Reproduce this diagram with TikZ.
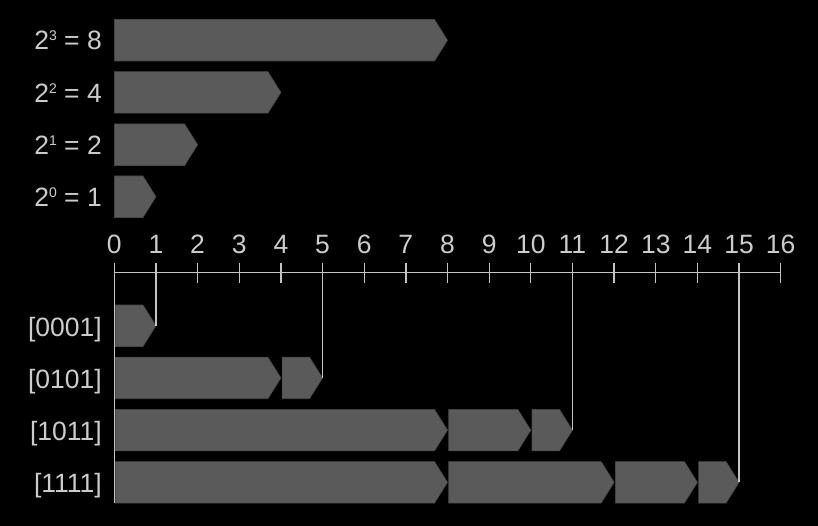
\documentclass[tikz,border=0pt]{standalone}
\usepackage{fontspec}
\setmainfont{Liberation Sans}
\definecolor{barfill}{HTML}{5A5A5A}
\definecolor{baredge}{HTML}{484848}
\definecolor{ink}{HTML}{CCCCCC}
\definecolor{rule}{HTML}{C4C4C4}
\newcommand\xv[1]{{114.3+41.65*(#1)}}
\newcommand\supnum[1]{\raisebox{9pt}{\fontsize{14}{14}\selectfont #1}}
% name, from, to, ytop, left offset
\newcommand\mybar[5]{%
  \path[barshape] ({114.3+41.65*(#2)+#5},#4) -- ({114.3+41.65*(#3)-13},#4)
    -- ({114.3+41.65*(#3)},{#4+20.75}) -- ({114.3+41.65*(#3)-13},{#4+41.5})
    -- ({114.3+41.65*(#2)+#5},{#4+41.5}) -- cycle;
  \coordinate (#1) at ({114.3+41.65*(#3)},{#4+20.75});%
}
\begin{document}
\begin{tikzpicture}[x=1pt,y=-1pt,
  barshape/.style={fill=barfill,draw=baredge,line width=0.6pt},
  lbl/.style={text=ink,font=\fontsize{26.5}{30}\selectfont,inner sep=0pt},
  side/.style={lbl,anchor=base east},
  axisline/.style={draw=rule,line width=1.3pt},
  conn/.style={draw=rule,line width=1.3pt}]
\fill[black] (0,0) rectangle (818,526);
\useasboundingbox (0,0) rectangle (818,526);

% top bars
\mybar{p3}{0}{8}{19.5}{0}
\mybar{p2}{0}{4}{71.7}{0}
\mybar{p1}{0}{2}{124}{0}
\mybar{p0}{0}{1}{176}{0}
\node[side] (l3) at (102,50) {2\supnum{3} = 8};
\node[side] (l2) at (102,102.2) {2\supnum{2} = 4};
\node[side] (l1) at (102,154.4) {2\supnum{1} = 2};
\node[side] (l0) at (102,206.6) {2\supnum{0} = 1};

% axis
\coordinate (a0) at (\xv{0},272.7);
\coordinate (a16) at (\xv{16},272.7);
\draw[axisline] (a0) -- (a16);
\foreach \i in {0,...,16}{
  \coordinate (t\i) at (\xv{\i},263);
  \coordinate (b\i) at (\xv{\i},283);
  \draw[axisline] (t\i) -- (b\i);
  \node[lbl,anchor=base] (n\i) at (\xv{\i},253.5) {\i};
}

% bottom bars
\mybar{r1a}{0}{1}{305}{1.2}
\mybar{r2a}{0}{4}{357.2}{1.2}
\mybar{r2b}{4}{5}{357.2}{1.2}
\mybar{r3a}{0}{8}{409.4}{1.2}
\mybar{r3b}{8}{10}{409.4}{1.2}
\mybar{r3c}{10}{11}{409.4}{1.2}
\mybar{r4a}{0}{8}{461.6}{1.2}
\mybar{r4b}{8}{12}{461.6}{1.2}
\mybar{r4c}{12}{14}{461.6}{1.2}
\mybar{r4d}{14}{15}{461.6}{1.2}
\node[side] (k1) at (102,336) {[0001]};
\node[side] (k2) at (102,388.2) {[0101]};
\node[side] (k3) at (102,440.4) {[1011]};
\node[side] (k4) at (102,492.6) {[1111]};

% connectors
\coordinate (zend) at (\xv{0},502.7);
\draw[conn] (t0) -- (zend);
\draw[conn] (t1) -- (r1a);
\draw[conn] (t5) -- (r2b);
\draw[conn] (t11) -- (r3c);
\draw[conn] (t15) -- (r4d);
\end{tikzpicture}
\end{document}
